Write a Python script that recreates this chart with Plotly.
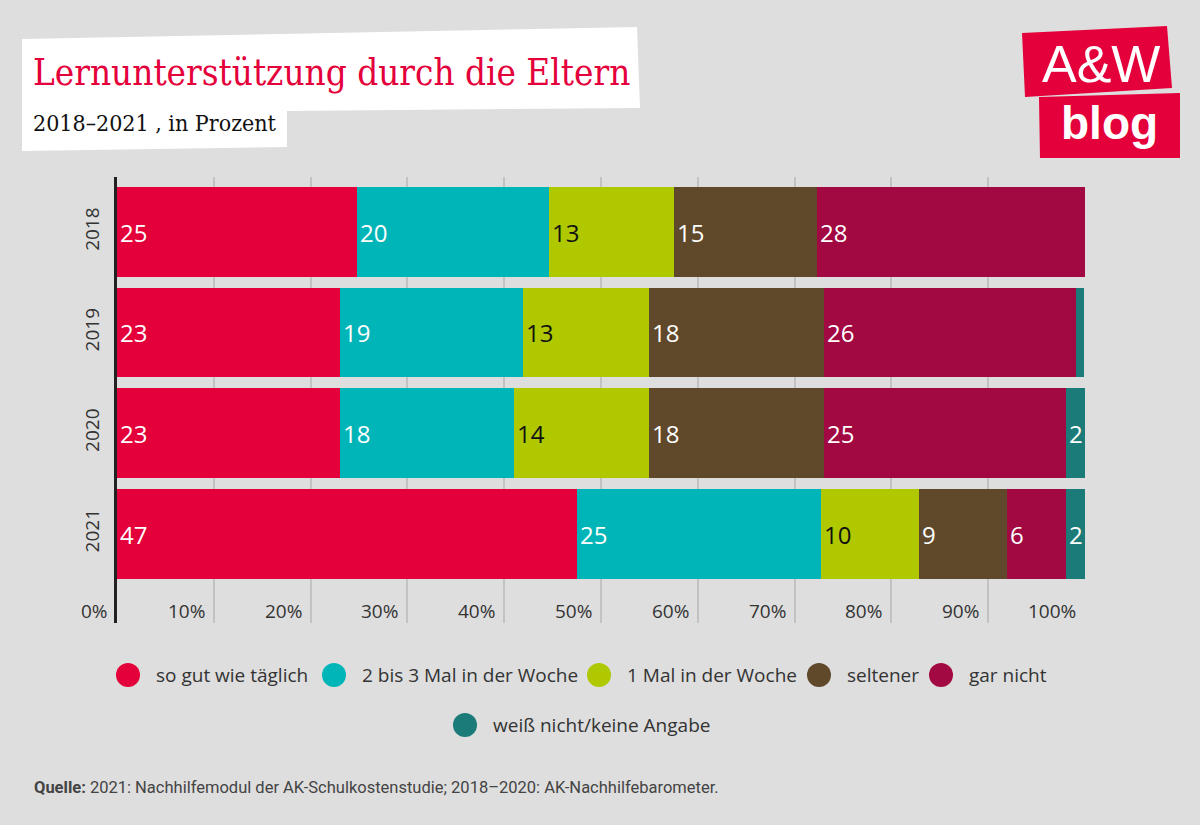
import plotly.graph_objects as go

# ---------------- data ----------------
years = ["2018", "2019", "2020", "2021"]
categories = ["so gut wie täglich", "2 bis 3 Mal in der Woche", "1 Mal in der Woche",
              "seltener", "gar nicht", "weiß nicht/keine Angabe"]

taeglich = [24.8, 23.0, 23.0, 47.5]
zwei_drei = [19.8, 18.9, 18.0, 25.2]
einmal = [12.9, 13.1, 14.0, 10.1]
seltener = [14.8, 18.0, 18.0, 9.1]
gar_nicht = [27.7, 26.1, 25.0, 6.1]
weiss_nicht = [0.0, 0.8, 2.0, 2.0]

taeglich_lbl = ["25", "23", "23", "47"]
zwei_drei_lbl = ["20", "19", "18", "25"]
einmal_lbl = ["13", "13", "14", "10"]
seltener_lbl = ["15", "18", "18", "9"]
gar_nicht_lbl = ["28", "26", "25", "6"]
weiss_nicht_lbl = ["", "", "2", "2"]

x_ticks = [0, 10, 20, 30, 40, 50, 60, 70, 80, 90, 100]
x_tick_labels = ["0%", "10%", "20%", "30%", "40%", "50%", "60%", "70%", "80%", "90%", "100%"]

colors = ["#E4003A", "#00B5B8", "#AFC800", "#60492B", "#A20842", "#1B7B78"]
text_colors = ["white", "white", "#111111", "white", "white", "white"]

series = [taeglich, zwei_drei, einmal, seltener, gar_nicht, weiss_nicht]
labels = [taeglich_lbl, zwei_drei_lbl, einmal_lbl, seltener_lbl, gar_nicht_lbl, weiss_nicht_lbl]

# ---------------- geometry helpers ----------------
W, H = 1200, 825
L, R, T, B = 117, 1085, 177, 623  # plot area in pixels


def px(x):
    return (x - L) / (R - L)


def py(y):
    return (B - y) / (B - T)


BG = "#DEDEDE"
FONT = "Open Sans"
SERIF = "DejaVu Serif Condensed, Liberation Serif, serif"
LOGO = "Liberation Sans"

fig = go.Figure()

ypos = list(range(len(years)))
for name, vals, lbl, col, tcol in zip(categories, series, labels, colors, text_colors):
    fig.add_trace(go.Bar(
        y=ypos, x=vals, orientation="h", name=name,
        marker=dict(color=col, line=dict(width=0)),
        width=0.895,
        text=lbl, textposition="inside", insidetextanchor="start", textangle=0,
        insidetextfont=dict(family=FONT, size=24, color=tcol),
        hoverinfo="skip", showlegend=False,
    ))

shapes = []
annotations = []

# title box (white, slightly skewed)
pts = [(22, 39), (637, 27), (640, 108), (287, 111), (287, 147), (22, 151)]
path = "M " + " L ".join(f"{px(a):.5f},{py(b):.5f}" for a, b in pts) + " Z"
shapes.append(dict(type="path", path=path, xref="paper", yref="paper",
                   fillcolor="white", line=dict(width=0), layer="below"))

annotations.append(dict(text="Lernunterstützung durch die Eltern", x=px(31), y=py(72),
                        xref="paper", yref="paper", xanchor="left", yanchor="middle",
                        showarrow=False, font=dict(family=SERIF, size=36.5, color="#E4003A")))
annotations.append(dict(text="2018–2021 , in Prozent", x=px(31), y=py(123),
                        xref="paper", yref="paper", xanchor="left", yanchor="middle",
                        showarrow=False, font=dict(family=SERIF, size=23, color="#111111")))

# logo
up = [(1022, 33), (1167, 26), (1172, 88), (1025, 97)]
lo = [(1039, 97), (1180, 93), (1180, 158), (1040, 158)]
for poly in (up, lo):
    p = "M " + " L ".join(f"{px(a):.5f},{py(b):.5f}" for a, b in poly) + " Z"
    shapes.append(dict(type="path", path=p, xref="paper", yref="paper",
                       fillcolor="#E4003A", line=dict(width=0), layer="below"))
annotations.append(dict(text="A&amp;W", x=px(1101), y=py(64), xref="paper", yref="paper",
                        xanchor="center", yanchor="middle", showarrow=False, borderpad=0,
                        font=dict(family=LOGO, size=52, color="white")))
annotations.append(dict(text="<b>blog</b>", x=px(1109), y=py(122.5), xref="paper", yref="paper",
                        xanchor="center", yanchor="middle", showarrow=False, borderpad=0,
                        font=dict(family=LOGO, size=46, color="white")))

# x tick labels (right-aligned to gridlines)
for v, t in zip(x_ticks, x_tick_labels):
    annotations.append(dict(text=t, x=v, xref="x", y=py(611), yref="paper",
                            xanchor="right", yanchor="middle", xshift=-7, showarrow=False,
                            font=dict(family=FONT, size=19, color="#333333")))

# manual legend
leg = [(128, 675), (334, 675), (599, 675), (819, 675), (941, 675), (465, 725)]
for (cx, cy), name, col in zip(leg, categories, colors):
    r = 12
    shapes.append(dict(type="circle", xref="paper", yref="paper",
                       x0=px(cx - r), x1=px(cx + r), y0=py(cy + r), y1=py(cy - r),
                       fillcolor=col, line=dict(width=0)))
    annotations.append(dict(text=name, x=px(cx + 26), y=py(cy), xref="paper", yref="paper",
                            xanchor="left", yanchor="middle", showarrow=False,
                            font=dict(family=FONT, size=19, color="#333333")))

# source
annotations.append(dict(text="<b>Quelle:</b> 2021: Nachhilfemodul der AK-Schulkostenstudie; 2018–2020: AK-Nachhilfebarometer.",
                        x=px(32), y=py(787), xref="paper", yref="paper",
                        xanchor="left", yanchor="middle", showarrow=False,
                        font=dict(family="Roboto", size=16.5, color="#444444")))

fig.update_layout(
    width=W, height=H,
    margin=dict(l=L, r=W - R, t=T, b=H - B, pad=0),
    paper_bgcolor=BG, plot_bgcolor=BG,
    barmode="stack", bargap=0,
    showlegend=False,
    uniformtext=dict(minsize=24, mode="show"),
    shapes=shapes, annotations=annotations,
    xaxis=dict(range=[0, 100], tickvals=x_ticks, showticklabels=False,
               showgrid=True, gridcolor="#C2C2C2", gridwidth=2, zeroline=False,
               showline=False, fixedrange=True),
    yaxis=dict(range=[3.89, -0.547], tickvals=ypos, ticktext=years, tickangle=-90,
               showgrid=False, zeroline=False, showline=True, linecolor="#222222",
               linewidth=3, ticks="", ticklabelstandoff=7,
               tickfont=dict(family=FONT, size=19, color="#333333"), fixedrange=True),
)

fig.write_html("out.html", config={"displayModeBar": False},
               post_script="document.body.style.margin='0px';")
